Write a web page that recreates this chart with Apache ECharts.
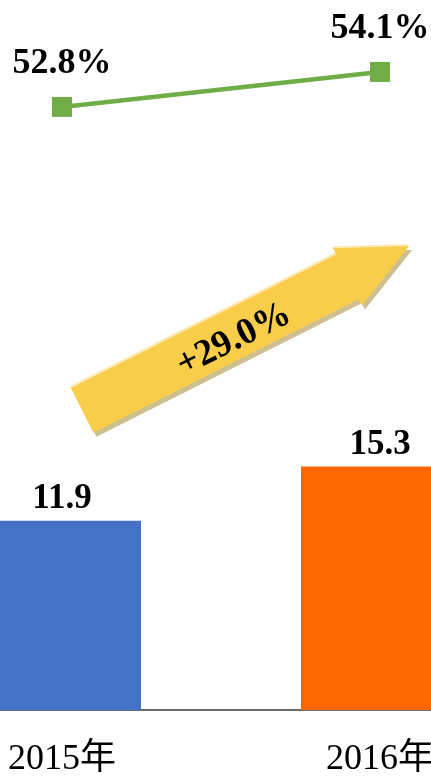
<!DOCTYPE html>
<html>
<head>
<meta charset="utf-8">
<script src="https://cdn.jsdelivr.net/npm/echarts@6/dist/echarts.min.js"></script>
<style>
  html, body { margin: 0; padding: 0; background: #ffffff; }
  #chart { width: 431px; height: 777px; }
</style>
</head>
<body>
<div id="chart"></div>
<script>
// Categories and values
const years = ['2015年', '2016年'];
const revenue = [11.9, 15.3];
const share = [52.8, 54.1];
const growthText = '+29.0%';

const barColors = ['#4472C4', '#FF6600'];
const lineColor = '#70AD47';
const serif = '"Liberation Serif", "Times New Roman", "Noto Sans CJK SC", serif';

const chart = echarts.init(document.getElementById('chart'));

// Block arrow drawn in its own frame (u along the arrow, v across it),
// then turned into screen points.
function arrowPoints(ox, oy, deg, dx, dy) {
  const a = deg * Math.PI / 180;
  const ux = Math.cos(a), uy = -Math.sin(a);
  const vx = Math.sin(a), vy = Math.cos(a);
  const shape = [[0, 0], [297, 0], [297, -7], [366, 25], [297, 57], [297, 50], [0, 50]];
  return shape.map(([u, v]) => [ox + u * ux + v * vx + dx, oy + u * uy + v * vy + dy]);
}
const arrowAngle = 26.7;
const arrowOrigin = [71, 388];

const option = {
  backgroundColor: '#ffffff',
  animation: false,
  // the plot runs past both edges of the page, so the outer bars are cut off
  grid: { left: -97, right: -108, top: 10, bottom: 67, outerBoundsMode: 'none', containLabel: false },
  xAxis: {
    type: 'category',
    data: years,
    axisLine: { show: true, lineStyle: { color: '#3a3a3a', width: 1.5 } },
    axisTick: { show: false },
    axisLabel: {
      color: '#000000',
      fontFamily: serif,
      fontSize: 36,
      margin: 32
    }
  },
  yAxis: [
    { type: 'value', min: 0, max: 44, show: false, splitLine: { show: false } },
    { type: 'value', min: 30.4, max: 56.4, show: false, splitLine: { show: false } }
  ],
  series: [
    {
      type: 'bar',
      yAxisIndex: 0,
      barWidth: 158,
      data: revenue.map((v, i) => ({ value: v, itemStyle: { color: barColors[i] } })),
      label: {
        show: true,
        position: 'top',
        distance: 4,
        color: '#000000',
        fontFamily: serif,
        fontWeight: 'bold',
        fontSize: 35
      }
    },
    {
      type: 'line',
      yAxisIndex: 1,
      data: share,
      symbol: 'rect',
      symbolSize: 20,
      lineStyle: { color: lineColor, width: 4.5 },
      itemStyle: { color: lineColor },
      label: {
        show: true,
        position: 'top',
        distance: 15,
        color: '#000000',
        fontFamily: serif,
        fontWeight: 'bold',
        fontSize: 36,
        formatter: p => p.value.toFixed(1) + '%'
      }
    }
  ],
  graphic: [
    {
      type: 'polygon',
      shape: { points: arrowPoints(arrowOrigin[0], arrowOrigin[1], arrowAngle, 3, 4) },
      style: { fill: '#CDBF8F' },
      z: 10
    },
    {
      type: 'polygon',
      shape: { points: arrowPoints(arrowOrigin[0], arrowOrigin[1], arrowAngle, -1, -2) },
      style: { fill: '#FBEAB4' },
      z: 11
    },
    {
      type: 'polygon',
      shape: { points: arrowPoints(arrowOrigin[0], arrowOrigin[1], arrowAngle, 0, 0) },
      style: { fill: '#F8CD4A' },
      z: 12
    },
    {
      type: 'text',
      x: 234,
      y: 340,
      rotation: arrowAngle * Math.PI / 180,
      z: 13,
      style: {
        text: growthText,
        fill: '#000000',
        fontFamily: serif,
        fontWeight: 'bold',
        fontSize: 37,
        align: 'center',
        verticalAlign: 'middle'
      }
    }
  ]
};

chart.setOption(option);
</script>
</body>
</html>
